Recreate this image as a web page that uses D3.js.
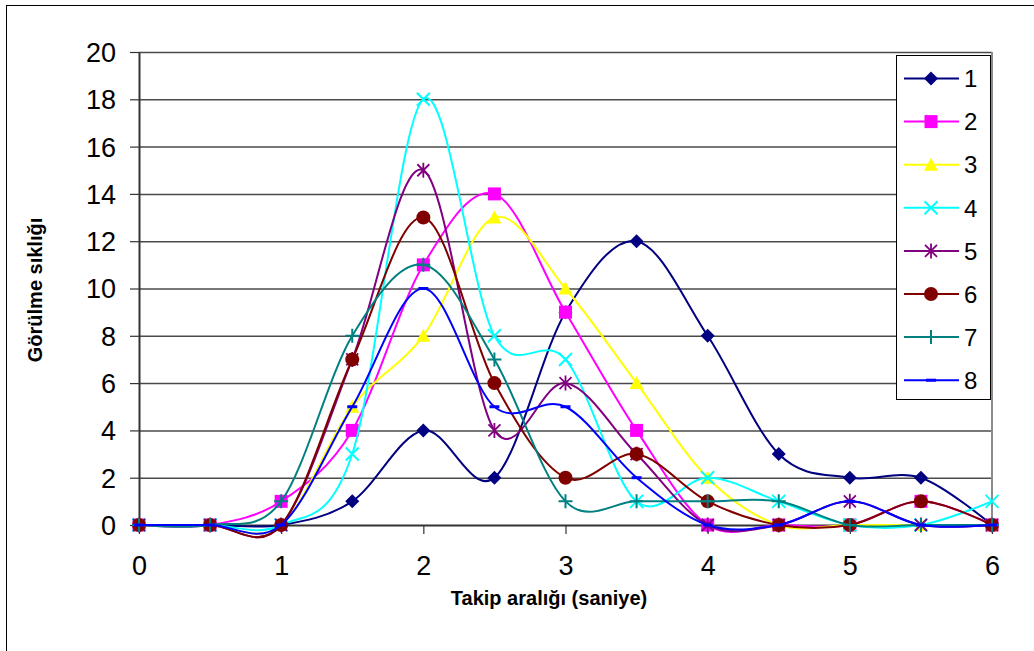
<!DOCTYPE html>
<html>
<head>
<meta charset="utf-8">
<script src="https://cdn.jsdelivr.net/npm/d3@7"></script>
<style>
  html, body { margin: 0; padding: 0; background: #fff; }
  svg { display: block; }
  text { font-family: "Liberation Sans", Arial, sans-serif; fill: #000; }
</style>
</head>
<body>
<svg id="chart" width="1034" height="651"></svg>
<script>
// Takip aralığı (saniye) values on the x axis
const intervals = [0, 0.5, 1, 1.5, 2, 2.5, 3, 3.5, 4, 4.5, 5, 5.5, 6];

// Görülme sıklığı for each of the eight series
const s1 = [0, 0, 0, 1, 4, 2, 9, 12, 8, 3, 2, 2, 0];
const s2 = [0, 0, 1, 4, 11, 14, 9, 4, 0, 0, 0, 1, 0];
const s3 = [0, 0, 0, 5, 8, 13, 10, 6, 2, 0, 0, 0, 0];
const s4 = [0, 0, 0, 3, 18, 8, 7, 1, 2, 1, 0, 0, 1];
const s5 = [0, 0, 0, 7, 15, 4, 6, 3, 0, 0, 1, 0, 0];
const s6 = [0, 0, 0, 7, 13, 6, 2, 3, 1, 0, 0, 1, 0];
const s7 = [0, 0, 1, 8, 11, 7, 1, 1, 1, 1, 0, 0, 0];
const s8 = [0, 0, 0, 5, 10, 5, 5, 2, 0, 0, 1, 0, 0];

const seriesNames = ["1", "2", "3", "4", "5", "6", "7", "8"];
const seriesValues = [s1, s2, s3, s4, s5, s6, s7, s8];
const seriesColors = ["#000080", "#ff00ff", "#ffff00", "#00ffff", "#800080", "#800000", "#008080", "#0000ff"];
const seriesMarkers = ["diamond", "square", "triangle", "x", "star", "circle", "plus", "dash"];

const yTicks = [0, 2, 4, 6, 8, 10, 12, 14, 16, 18, 20];
const xTicks = [0, 1, 2, 3, 4, 5, 6];

const svg = d3.select("#chart");

// outer chart frame
svg.append("rect")
  .attr("x", 6.5).attr("y", 5.5)
  .attr("width", 1100).attr("height", 700)
  .attr("fill", "none").attr("stroke", "#000").attr("stroke-width", 1);

const x = d3.scaleLinear().domain([0, 6]).range([139, 992]);
const y = d3.scaleLinear().domain([0, 20]).range([525, 52]);

// horizontal gridlines
svg.append("g")
  .attr("transform", `translate(${x(0)},0)`)
  .call(d3.axisLeft(y).tickValues(yTicks.slice(1)).tickSize(-(x(6) - x(0))).tickFormat(""))
  .call(g => g.select(".domain").remove())
  .call(g => g.selectAll("line").attr("stroke", "#4a4a4a").attr("stroke-width", 1.5));

// plot area right border
svg.append("line")
  .attr("x1", x(6)).attr("x2", x(6))
  .attr("y1", y(20)).attr("y2", y(0))
  .attr("stroke", "#8c8c8c").attr("stroke-width", 2);

// y axis
svg.append("g")
  .attr("transform", `translate(${x(0)},0)`)
  .call(d3.axisLeft(y).tickValues(yTicks).tickSize(9).tickPadding(14).tickSizeOuter(0))
  .call(g => g.select(".domain").attr("stroke", "#333").attr("stroke-width", 2))
  .call(g => g.selectAll(".tick line").attr("stroke", "#333").attr("stroke-width", 1.2))
  .call(g => g.selectAll(".tick text")
    .attr("font-size", 27).attr("font-family", "Liberation Sans, Arial, sans-serif")
    .attr("fill", "#000").attr("dy", "0.35em"));

// x axis
svg.append("g")
  .attr("transform", `translate(0,${y(0)})`)
  .call(d3.axisBottom(x).tickValues(xTicks).tickSize(9).tickPadding(22).tickSizeOuter(0)
    .tickFormat(d3.format("d")))
  .call(g => g.select(".domain").attr("stroke", "#333").attr("stroke-width", 2))
  .call(g => g.selectAll(".tick line").attr("stroke", "#333").attr("stroke-width", 1.2))
  .call(g => g.selectAll(".tick text")
    .attr("font-size", 27).attr("font-family", "Liberation Sans, Arial, sans-serif")
    .attr("fill", "#000").attr("dy", "0.71em"));

// axis titles
svg.append("text")
  .attr("x", 549).attr("y", 605)
  .attr("text-anchor", "middle")
  .attr("font-size", 20).attr("font-weight", "bold")
  .text("Takip aralığı (saniye)");

svg.append("text")
  .attr("transform", "translate(42,290) rotate(-90)")
  .attr("text-anchor", "middle")
  .attr("font-size", 20).attr("font-weight", "bold")
  .text("Görülme sıklığı");

// marker shapes
function drawMarker(g, type, color) {
  switch (type) {
    case "diamond":
      g.append("path").attr("d", "M0,-7L7,0L0,7L-7,0Z").attr("fill", color);
      break;
    case "square":
      g.append("rect").attr("x", -6.5).attr("y", -6.5).attr("width", 13).attr("height", 13).attr("fill", color);
      break;
    case "triangle":
      g.append("path").attr("d", "M0,-7L7,6L-7,6Z").attr("fill", color);
      break;
    case "x":
      g.append("path").attr("d", "M-6.5,-6.5L6.5,6.5M-6.5,6.5L6.5,-6.5")
        .attr("stroke", color).attr("stroke-width", 2).attr("fill", "none");
      break;
    case "star":
      g.append("path").attr("d", "M-6,-6L6,6M-6,6L6,-6M0,-7.5L0,7.5")
        .attr("stroke", color).attr("stroke-width", 1.8).attr("fill", "none");
      break;
    case "circle":
      g.append("circle").attr("r", 7).attr("fill", color);
      break;
    case "plus":
      g.append("path").attr("d", "M-7,0L7,0M0,-7L0,7")
        .attr("stroke", color).attr("stroke-width", 2).attr("fill", "none");
      break;
    case "dash":
      g.append("path").attr("d", "M-5,0L5,0")
        .attr("stroke", color).attr("stroke-width", 3).attr("fill", "none");
      break;
  }
}

const line = d3.line()
  .x((d, i) => x(intervals[i]))
  .y(d => y(d))
  .curve(d3.curveCatmullRom.alpha(0));

// series: smoothed line then markers, drawn in series order
seriesValues.forEach((vals, si) => {
  const g = svg.append("g");
  g.append("path")
    .datum(vals)
    .attr("d", line)
    .attr("fill", "none")
    .attr("stroke", seriesColors[si])
    .attr("stroke-width", 2);
  vals.forEach((v, i) => {
    const m = g.append("g").attr("transform", `translate(${x(intervals[i])},${y(v)})`);
    drawMarker(m, seriesMarkers[si], seriesColors[si]);
  });
});

// legend
const legend = svg.append("g");
legend.append("rect")
  .attr("x", 896.5).attr("y", 55.5)
  .attr("width", 94).attr("height", 344)
  .attr("fill", "#fff").attr("stroke", "#000").attr("stroke-width", 1);

seriesNames.forEach((name, si) => {
  const cy = 78.5 + si * 43.1;
  legend.append("line")
    .attr("x1", 904).attr("x2", 959)
    .attr("y1", cy).attr("y2", cy)
    .attr("stroke", seriesColors[si]).attr("stroke-width", 2);
  const m = legend.append("g").attr("transform", `translate(931,${cy})`);
  drawMarker(m, seriesMarkers[si], seriesColors[si]);
  legend.append("text")
    .attr("x", 964).attr("y", cy + 8.7)
    .attr("font-size", 24)
    .text(name);
});
</script>
</body>
</html>
